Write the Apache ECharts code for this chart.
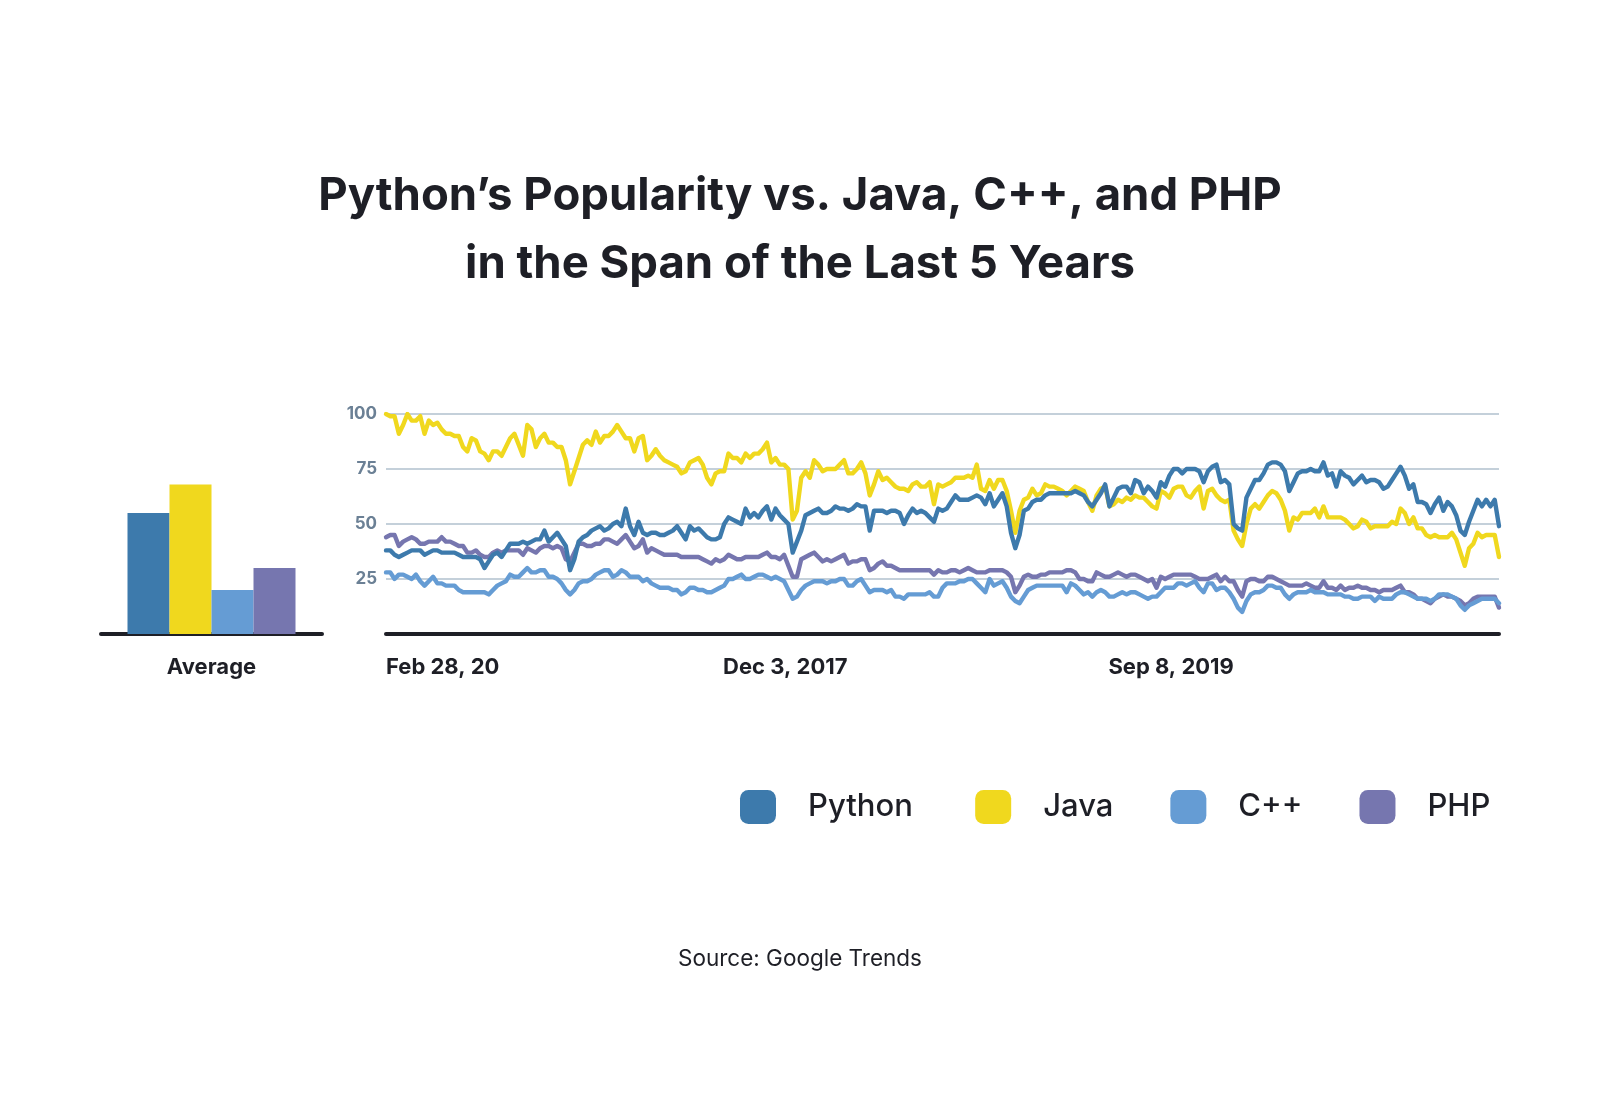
<!DOCTYPE html>
<html>
<head>
<meta charset="utf-8">
<script src="https://cdn.jsdelivr.net/npm/echarts@6/dist/echarts.min.js"></script>
<style>
html,body{margin:0;padding:0;background:#fff;}
#chart{width:1601px;height:1100px;}
</style>
</head>
<body>
<div id="chart"></div>
<script>
// ---- Data (weekly Google Trends interest, Feb 28 2016 onward, 261 weeks) ----
const seriesNames = ['Python', 'Java', 'C++', 'PHP'];
const startDate = '2016-02-28';
const weekCount = 261;
const xTickLabels = ['Feb 28, 20', 'Dec 3, 2017', 'Sep 8, 2019'];
const yTickValues = [25, 50, 75, 100];

const pythonData = [
38,38,36,35,36,37,38,38,38,36,
37,38,38,37,37,37,37,36,35,35,
35,35,34,30,33,36,37,35,38,41,
41,41,42,41,42,43,43,47,42,44,
46,43,40,29,34,42,44,45,47,48,
49,47,48,50,51,49,57,49,45,51,
46,45,46,46,45,45,46,47,49,46,
43,49,47,48,46,44,43,43,44,50,
53,52,51,50,57,53,55,53,56,58,
52,57,54,52,50,37,42,47,54,55,
56,57,55,55,56,58,57,57,56,57,
59,58,58,47,56,56,56,55,56,56,
55,50,54,57,55,56,55,53,51,57,
56,57,60,63,61,61,61,62,63,62,
59,64,58,61,64,58,46,39,45,56,
57,60,61,61,63,64,64,64,64,64,
64,65,64,63,60,58,61,64,68,58,
62,66,67,67,64,70,69,64,67,65,
62,69,67,72,75,75,73,75,75,75,
74,69,74,76,77,69,70,68,50,48,
47,62,66,70,70,73,77,78,78,77,
74,65,69,73,74,74,75,74,74,78,
72,73,67,74,72,71,68,70,72,69,
70,70,69,66,67,70,73,76,72,66,
68,60,60,59,55,59,62,56,60,58,
54,47,45,51,56,61,58,61,58,61,
49];

const javaData = [
100,99,99,91,95,100,97,97,99,91,
97,95,96,93,91,91,90,90,85,83,
89,88,83,82,79,83,83,81,85,89,
91,86,81,95,93,85,89,91,87,87,
85,85,79,68,74,80,86,88,86,92,
87,90,90,92,95,92,89,89,83,89,
90,79,81,84,81,79,78,77,76,73,
74,78,79,80,77,71,68,73,74,74,
82,80,80,78,82,80,82,82,84,87,
78,80,77,77,75,52,56,71,74,71,
79,77,74,75,75,75,77,79,73,73,
75,78,73,63,68,74,70,71,69,67,
66,66,65,68,69,67,67,69,59,68,
67,68,69,71,71,71,72,71,77,66,
65,70,66,70,70,65,56,46,56,61,
62,66,63,64,68,67,67,66,65,63,
65,67,66,65,60,56,63,66,67,58,
59,61,60,62,61,63,62,62,60,58,
57,65,64,62,66,67,67,63,62,65,
67,57,65,66,63,61,60,61,47,43,
40,50,57,59,57,60,63,65,64,61,
56,47,53,52,55,55,55,57,53,58,
53,53,53,53,52,50,48,49,52,51,
48,49,49,49,49,51,50,57,55,50,
53,48,48,45,44,45,44,44,44,46,
43,37,31,39,41,46,44,45,45,45,
35];

const cppData = [
28,28,25,27,27,26,25,27,24,22,
24,26,23,23,22,22,22,20,19,19,
19,19,19,19,18,20,22,23,24,27,
26,26,28,30,28,28,29,29,26,26,
25,23,20,18,20,23,24,24,25,27,
28,29,29,26,27,29,28,26,26,26,
24,25,23,22,21,21,21,20,20,18,
19,21,21,20,20,19,19,20,21,22,
25,25,26,27,25,25,26,27,27,26,
25,26,25,24,20,16,17,20,22,23,
24,24,24,23,24,24,25,25,22,22,
24,25,22,19,20,20,20,19,20,17,
17,16,18,18,18,18,18,19,17,17,
21,23,23,23,24,24,25,25,23,21,
19,25,22,23,24,21,17,15,14,17,
20,21,22,22,22,22,22,22,22,19,
23,22,20,18,19,17,19,20,19,17,
17,18,19,18,19,19,18,17,16,17,
17,19,21,21,21,23,23,22,23,24,
21,19,23,23,20,21,21,19,16,12,
10,15,18,19,19,20,22,22,21,21,
18,16,18,19,19,19,20,19,19,19,
18,18,18,18,17,17,16,16,17,17,
17,15,17,16,16,16,18,19,19,18,
17,16,16,16,15,16,18,18,18,17,
16,13,11,13,14,15,16,16,16,16,
14];

const phpData = [
44,45,45,40,42,43,44,43,41,41,
42,42,42,44,42,42,41,40,40,37,
37,38,36,35,35,37,38,37,38,38,
38,38,36,39,38,37,39,40,40,39,
40,39,34,33,37,41,41,40,40,41,
41,43,43,42,41,43,45,42,39,40,
43,37,39,38,37,36,36,36,36,35,
35,35,35,35,34,33,32,34,33,34,
36,35,34,34,35,35,35,35,36,37,
35,35,34,36,31,26,26,34,35,36,
37,35,33,34,33,34,35,36,32,33,
33,34,34,29,30,32,33,31,31,30,
29,29,29,29,29,29,29,29,27,29,
28,28,29,29,28,29,30,29,28,28,
28,29,29,29,29,28,26,19,22,26,
27,26,26,27,27,28,28,28,28,29,
29,28,25,25,24,24,28,27,26,26,
27,28,27,26,27,27,26,25,24,25,
21,26,25,26,27,27,27,27,27,26,
25,25,25,26,27,24,26,24,24,20,
17,24,25,25,24,24,26,26,25,24,
23,22,22,22,22,23,22,21,21,24,
21,21,20,22,20,21,21,22,21,21,
20,20,19,20,20,20,21,22,19,19,
18,16,16,15,14,16,17,18,17,17,
16,15,13,14,16,17,17,17,17,17,
12];

const averageCategory = ['Average'];
const averageValues = [55, 68, 20, 30]; // Python, Java, C++, PHP

// ---- Build categories (week dates) ----
const weeks = [];
{
  const t0 = Date.parse(startDate + 'T00:00:00Z');
  for (let i = 0; i < weekCount; i++) {
    const d = new Date(t0 + i * 7 * 86400000);
    weeks.push(d.toISOString().slice(0, 10));
  }
}

const colors = {
  'Python': '#3d7aac',
  'Java': '#f0d81e',
  'C++': '#659cd4',
  'PHP': '#7676af'
};
const dark = '#1e1f26';
const FONT = 'Inter, "Noto Sans", sans-serif';

const lineValues = {
  'Python': pythonData,
  'Java': javaData,
  'C++': cppData,
  'PHP': phpData
};
const lineZ = { 'Java': 2, 'PHP': 3, 'C++': 4, 'Python': 5 };

const chart = echarts.init(document.getElementById('chart'), null, { renderer: 'canvas' });

const series = [];
seriesNames.forEach((name, k) => {
  series.push({
    name: name,
    type: 'bar',
    xAxisIndex: 1,
    yAxisIndex: 1,
    barWidth: 42,
    barGap: '0%',
    itemStyle: { color: colors[name] },
    data: [averageValues[k]],
    animation: false
  });
});
seriesNames.forEach((name) => {
  series.push({
    name: name,
    type: 'line',
    xAxisIndex: 0,
    yAxisIndex: 0,
    z: lineZ[name],
    showSymbol: false,
    symbol: 'none',
    lineStyle: { color: colors[name], width: 4.4, join: 'round', cap: 'round' },
    itemStyle: { color: colors[name] },
    data: lineValues[name],
    animation: false
  });
});

const labelFont = { fontFamily: FONT, fontSize: 22, fontWeight: 700, color: dark };
const legendText = { fontFamily: FONT, fontSize: 31, fontWeight: 500, color: dark };

const option = {
  backgroundColor: '#ffffff',
  animation: false,
  textStyle: { fontFamily: FONT },
  title: [
    {
      text: 'Python\u2019s Popularity vs. Java, C++, and PHP\nin the Span of the Last 5 Years',
      left: 795,
      top: 157,
      textAlign: 'center',
      textStyle: {
        fontFamily: FONT,
        fontSize: 45.5,
        fontWeight: 700,
        color: dark,
        lineHeight: 68
      }
    },
    {
      text: 'Source: Google Trends',
      left: 795,
      top: 943,
      textAlign: 'center',
      textStyle: {
        fontFamily: FONT,
        fontSize: 22.5,
        fontWeight: 400,
        color: dark
      }
    }
  ],
  legend: {
    data: seriesNames,
    left: 735,
    top: 785,
    icon: 'roundRect',
    itemWidth: 36,
    itemHeight: 34,
    itemGap: 57,
    selectedMode: false,
    formatter: function (name) {
      // thin trailing space widens the gap after the first entry slightly
      return name === 'Python' ? name + '\u2009' : name;
    },
    textStyle: Object.assign({ padding: [0, 0, 0, 27] }, legendText)
  },
  grid: [
    { left: 386, right: 102, top: 414, bottom: 466, containLabel: false },
    { left: 101, right: 1279, top: 414, bottom: 466, containLabel: false }
  ],
  xAxis: [
    {
      type: 'category',
      gridIndex: 0,
      data: weeks,
      boundaryGap: false,
      axisLine: { show: true, lineStyle: { color: dark, width: 4 } },
      axisTick: { show: false },
      splitLine: { show: false },
      axisLabel: {
        interval: 91,
        margin: 22,
        alignMinLabel: 'left',
        fontFamily: FONT,
        fontSize: 22,
        fontWeight: 700,
        color: dark,
        rich: {
          a: Object.assign({}, labelFont),
          b: Object.assign({ padding: [0, 0, 0, 11] }, labelFont),
          c: Object.assign({ padding: [0, 5, 0, 0] }, labelFont)
        },
        formatter: function (val, idx) {
          const k = Math.round(idx / 92);
          const t = xTickLabels[k];
          if (!t) return '';
          return '{' + ['a', 'b', 'c'][k] + '|' + t + '}';
        }
      }
    },
    {
      type: 'category',
      gridIndex: 1,
      data: averageCategory,
      axisLine: { show: true, lineStyle: { color: dark, width: 4 } },
      axisTick: { show: false },
      axisLabel: {
        margin: 22,
        fontFamily: FONT,
        fontSize: 22,
        fontWeight: 700,
        color: dark
      }
    }
  ],
  yAxis: [
    {
      type: 'value',
      gridIndex: 0,
      min: 0,
      max: 100,
      interval: 25,
      axisLine: { show: false },
      axisTick: { show: false },
      splitLine: { show: true, lineStyle: { color: '#c4d0da', width: 2 } },
      axisLabel: {
        margin: 9,
        fontFamily: FONT,
        fontSize: 17,
        fontWeight: 700,
        color: '#6b8095',
        formatter: function (v) { return yTickValues.indexOf(v) >= 0 ? String(v) : ''; }
      }
    },
    {
      type: 'value',
      gridIndex: 1,
      min: 0,
      max: 100,
      show: false,
      splitLine: { show: false }
    }
  ],
  series: series
};

chart.setOption(option);
</script>
</body>
</html>
